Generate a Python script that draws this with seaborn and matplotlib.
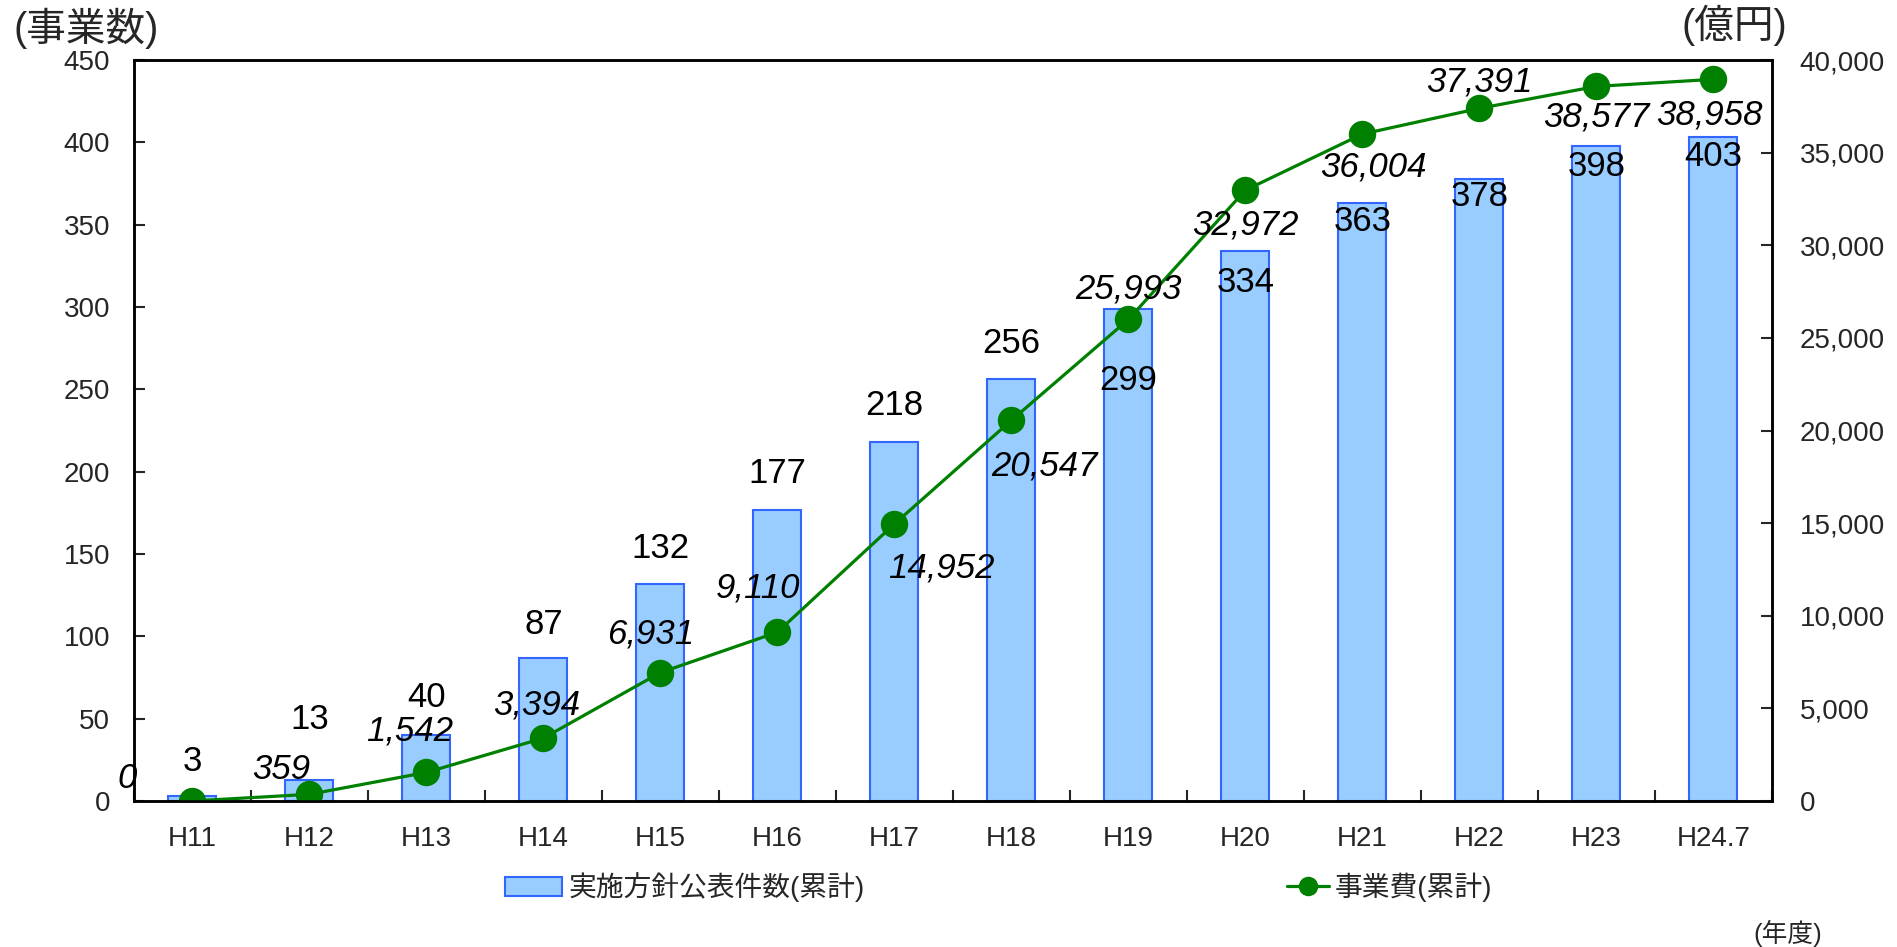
import numpy as np
import pandas as pd
import matplotlib.pyplot as plt
import matplotlib.ticker as mticker
from matplotlib.patches import Patch
from matplotlib.lines import Line2D
import seaborn as sns

# data ------------------------------
years = ["H11", "H12", "H13", "H14", "H15", "H16", "H17", "H18", "H19",
         "H20", "H21", "H22", "H23", "H24.7"]
projects = [3, 13, 40, 87, 132, 177, 218, 256, 299, 334, 363, 378, 398, 403]
costs = [0, 359, 1542, 3394, 6931, 9110, 14952, 20547, 25993, 32972,
         36004, 37391, 38577, 38958]

# label offsets (points) -------------
bar_lbl_dy = [25, 43, 27, 24, 25, 26, 26, 26, -52, -23, -13, -13, -15, -14]
line_lbl_off = [(-47, 16), (-20, 18), (-12, 30), (-5, 24), (-7, 28), (-14, 32),
                (34, -32), (24, -33), (0, 22), (0, -25), (8, -24), (0, 19),
                (0, -22), (-3, -26)]

df = pd.DataFrame({"year": years, "projects": projects, "cost": costs})

sns.set_theme(style="white")
plt.rcParams['font.family'] = ['Liberation Sans', 'Noto Sans CJK JP', 'DejaVu Sans']

BAR_FACE = "#99CCFF"
BAR_EDGE = "#3366FF"
GREEN = "#008000"

fig = plt.figure(figsize=(18.97, 9.47), dpi=100)
ax = fig.add_axes([0.0706, 0.1542, 0.8634, 0.7824])
ax2 = ax.twinx()

sns.barplot(data=df, x="year", y="projects", ax=ax, color=BAR_FACE,
            edgecolor=BAR_EDGE, linewidth=1.5, width=0.41, saturation=1)
sns.pointplot(data=df, x="year", y="cost", ax=ax2, color=GREEN,
              markers="o", markersize=18, linewidth=2.3)

n = len(years)
ax.set_xlim(-0.5, n - 0.5)
ax.set_ylim(0, 450)
ax.set_yticks(np.arange(0, 451, 50))
ax2.set_ylim(0, 40000)
ax2.set_yticks(np.arange(0, 40001, 5000))
ax2.yaxis.set_major_formatter(mticker.FuncFormatter(lambda v, p: f"{int(v):,}"))
ax.set_xlabel("")
ax.set_ylabel("")
ax2.set_xlabel("")
ax2.set_ylabel("")

# ticks
ax.xaxis.set_minor_locator(mticker.FixedLocator(np.arange(-0.5, n, 1.0)))
ax.tick_params(axis="x", which="major", length=0, pad=18, labelsize=20)
ax.tick_params(axis="x", which="minor", direction="in", length=8, width=1.5, bottom=True)
ax.tick_params(axis="y", direction="in", length=8, width=1.5, pad=17, labelsize=20, left=True)
ax2.tick_params(axis="y", direction="in", length=8, width=1.5, pad=20, labelsize=20, right=True)

for a in (ax, ax2):
    for s in a.spines.values():
        s.set_color("black")
        s.set_linewidth(1.8)

# labels
for i, v in enumerate(projects):
    ax.annotate(str(v), xy=(i, v), xytext=(0, bar_lbl_dy[i]), textcoords="offset points",
                ha="center", va="center", fontsize=25, color="black")
for i, v in enumerate(costs):
    dx, dy = line_lbl_off[i]
    ax2.annotate(f"{v:,}", xy=(i, v), xytext=(dx, dy), textcoords="offset points",
                 ha="center", va="center", fontsize=25, style="italic", color="black",
                 zorder=5)

# unit labels
fig.text(13 / 1897, 1 - 28 / 947, "(事業数)", fontsize=28.5, ha="left", va="center")
fig.text(1682 / 1897, 1 - 25 / 947, "(億円)", fontsize=28.5, ha="left", va="center")
fig.text(1753 / 1897, 1 - 933 / 947, "(年度)", fontsize=18.5, ha="left", va="center")

# legends
bar_h = Patch(facecolor=BAR_FACE, edgecolor=BAR_EDGE, linewidth=1.5, label="実施方針公表件数(累計)")
line_h = Line2D([], [], color=GREEN, marker="o", markersize=13, linewidth=2.3, label="事業費(累計)")
fig.legend(handles=[bar_h], loc="center left", bbox_to_anchor=(480 / 1897, 1 - 887 / 947),
           frameon=False, fontsize=20, handlelength=2.05, handleheight=0.7, handletextpad=0.25)
fig.legend(handles=[line_h], loc="center left", bbox_to_anchor=(1262 / 1897, 1 - 887 / 947),
           frameon=False, fontsize=20, handlelength=1.5, handletextpad=0.2)

plt.savefig("out.png", dpi=100)
print("saved out.png")
